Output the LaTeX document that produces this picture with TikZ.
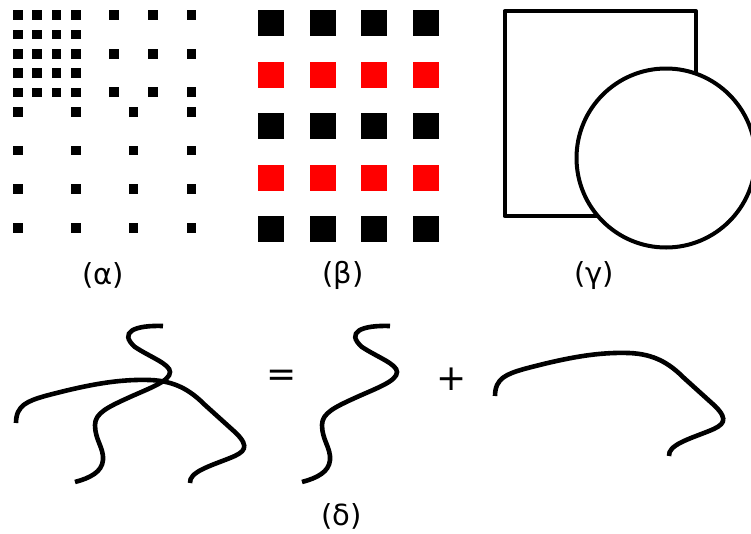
\documentclass[tikz,border=0pt]{standalone}
\usepackage{fontspec}
\setmainfont{DejaVu Sans}

\begin{document}
\begin{tikzpicture}[
    x=1pt, y=-1pt,
    lbl/.style={font=\fontsize{29}{32}\selectfont, inner sep=0pt},
    op/.style={font=\fontsize{36}{40}\selectfont, inner sep=0pt},
    strand/.style={line width=4.6pt},
    outline/.style={line width=4pt, line join=round},
    vstrand/.pic={
      \draw[strand] (163,326) .. controls (135,325) and (118,332) .. (135,347)
        .. controls (150,357) and (170,364) .. (170,372)
        .. controls (170,381) and (150,388) .. (130,397)
        .. controls (108,407) and (95,413) .. (95,425)
        .. controls (95,440) and (104,448) .. (103,460)
        .. controls (102,472) and (90,478) .. (75,482);
    },
    hstrand/.pic={
      \draw[strand] (16,423) .. controls (16,405) and (28,401) .. (45,396)
        .. controls (90,384) and (120,379) .. (150,380)
        .. controls (175,381) and (190,390) .. (205,405)
        -- (236,433)
        .. controls (250,447) and (245,452) .. (230,458)
        .. controls (210,466) and (189,472) .. (190,483);
    }
]
\useasboundingbox (0,0) rectangle (751,533);

% (alpha) dot grids
\foreach \i in {0,...,3}
  \foreach \j in {0,...,4}
    \fill ({17.8+19.33*\i},{15.2+19.33*\j}) +(-4.85,-4.85) rectangle +(4.85,4.85);
\foreach \i in {0,...,2}
  \foreach \j in {0,...,2}
    \fill ({114.3+38.6*\i},{15.2+38.5*\j}) +(-4.85,-4.85) rectangle +(4.85,4.85);
\foreach \i in {0,...,3}
  \foreach \j in {0,...,3}
    \fill ({17.8+57.9*\i},{111.7+38.67*\j}) +(-4.85,-4.85) rectangle +(4.85,4.85);

% (beta) striped grid
\foreach \j/\c in {0/black,1/red,2/black,3/red,4/black}
  \foreach \i in {0,...,3}
    \fill[\c] ({271+51.6*\i},{23.3+51.5*\j}) +(-13,-13) rectangle +(13,13);

% (gamma) square behind circle
\draw[outline] (504.5,11.3) rectangle (696,216);
\draw[outline, fill=white] (666,158) circle[radius=89.5];

% (delta) strands
\pic at (0,0) {hstrand};
\pic at (0,0) {vstrand};
\pic at (227,0) {vstrand};
\pic at (479,-27) {hstrand};

\node[op] (eq) at (282,378) {=};
\node[op] (plus) at (452,379) {+};

\node[lbl] (alpha) at (103,275.6) {(α)};
\node[lbl] (beta) at (343,275.6) {(β)};
\node[lbl] (gamma) at (594,275.6) {(γ)};
\node[lbl] (delta) at (341.7,516.7) {(δ)};
\end{tikzpicture}
\end{document}
